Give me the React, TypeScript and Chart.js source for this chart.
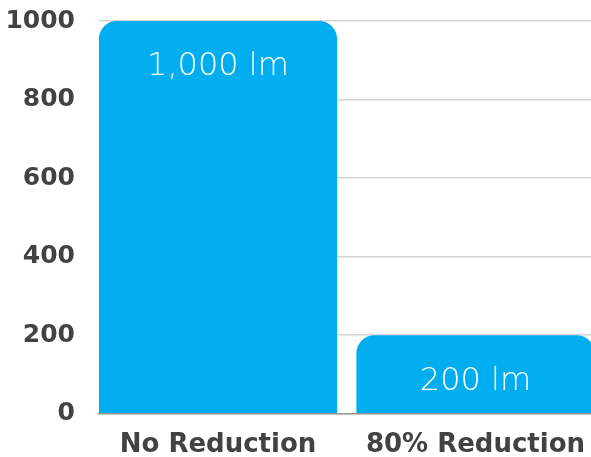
import React, { useEffect, useRef } from "react";
import { Chart, registerables } from "chart.js";

Chart.register(...registerables);

const categories = ["No Reduction", "80% Reduction"];
const lumens = [1000, 200];
const valueLabels = ["1,000 lm", "200 lm"];
const yTicks = [0, 200, 400, 600, 800, 1000];

const barColor = "#00AEEF";
const textColor = "#424242";
const axisFont = "'DejaVu Sans', sans-serif";
const labelFont = "'DejaVu Sans', sans-serif";

const CANVAS_W = 620;
const CANVAS_H = 479;
const SHIFT_Y = -18;

const valueLabelPlugin = {
  id: "valueLabels",
  afterDatasetsDraw(chart: any) {
    const ctx = chart.ctx;
    const meta = chart.getDatasetMeta(0);
    ctx.save();
    ctx.fillStyle = "#ffffff";
    ctx.font = `200 32px ${labelFont}`;
    ctx.textAlign = "center";
    ctx.textBaseline = "middle";
    meta.data.forEach((bar: any, i: number) => {
      ctx.fillText(valueLabels[i], bar.x, bar.y + 46);
    });
    ctx.restore();
  },
};

export default function App() {
  const ref = useRef<HTMLCanvasElement | null>(null);
  useEffect(() => {
    if (!ref.current) return;
    const chart = new Chart(ref.current, {
      type: "bar",
      data: {
        datasets: [
          {
            data: lumens.map((v, i) => ({ x: i, y: v })),
            backgroundColor: barColor,
            borderRadius: { topLeft: 18, topRight: 18, bottomLeft: 0, bottomRight: 0 },
            borderSkipped: "bottom",
            barPercentage: 0.925,
            categoryPercentage: 1,
          },
        ],
      },
      options: {
        animation: false,
        responsive: false,
        maintainAspectRatio: false,
        layout: { padding: { top: 0, right: 0, bottom: -16, left: 0 } },
        plugins: { legend: { display: false }, tooltip: { enabled: false } },
        scales: {
          x: {
            type: "linear",
            offset: false,
            min: -0.4621,
            max: 1.5612,
            grid: { display: false, offset: false, drawTicks: false },
            border: { display: true, color: "#9a9a9a", width: 1.5 },
            ticks: {
              stepSize: 1,
              includeBounds: false,
              autoSkip: false,
              maxRotation: 0,
              padding: 16,
              color: textColor,
              font: { family: axisFont, size: 26, weight: "bold" },
              callback: (v: any) => (Number.isInteger(v) && categories[v] !== undefined ? categories[v] : ""),
            },
          },
          y: {
            min: 0,
            max: 1000,
            afterFit: (scale: any) => {
              scale.width = 99;
            },
            afterBuildTicks: (scale: any) => {
              scale.ticks = yTicks.map((v) => ({ value: v }));
            },
            grid: { color: "#d4d4d4", lineWidth: 1.5, drawTicks: false },
            border: { display: false },
            ticks: {
              padding: 24,
              color: textColor,
              font: { family: axisFont, size: 25, weight: "bold" },
              callback: (v: any) => String(v),
            },
          },
        },
      },
      plugins: [valueLabelPlugin],
    });
    return () => chart.destroy();
  }, []);
  return (
    <div style={{ position: "fixed", left: 0, top: 0, width: 591, height: 457, overflow: "hidden", background: "#fff" }}>
      <canvas
        ref={ref}
        width={CANVAS_W}
        height={CANVAS_H}
        style={{ display: "block", position: "absolute", left: 0, top: SHIFT_Y }}
      />
    </div>
  );
}
